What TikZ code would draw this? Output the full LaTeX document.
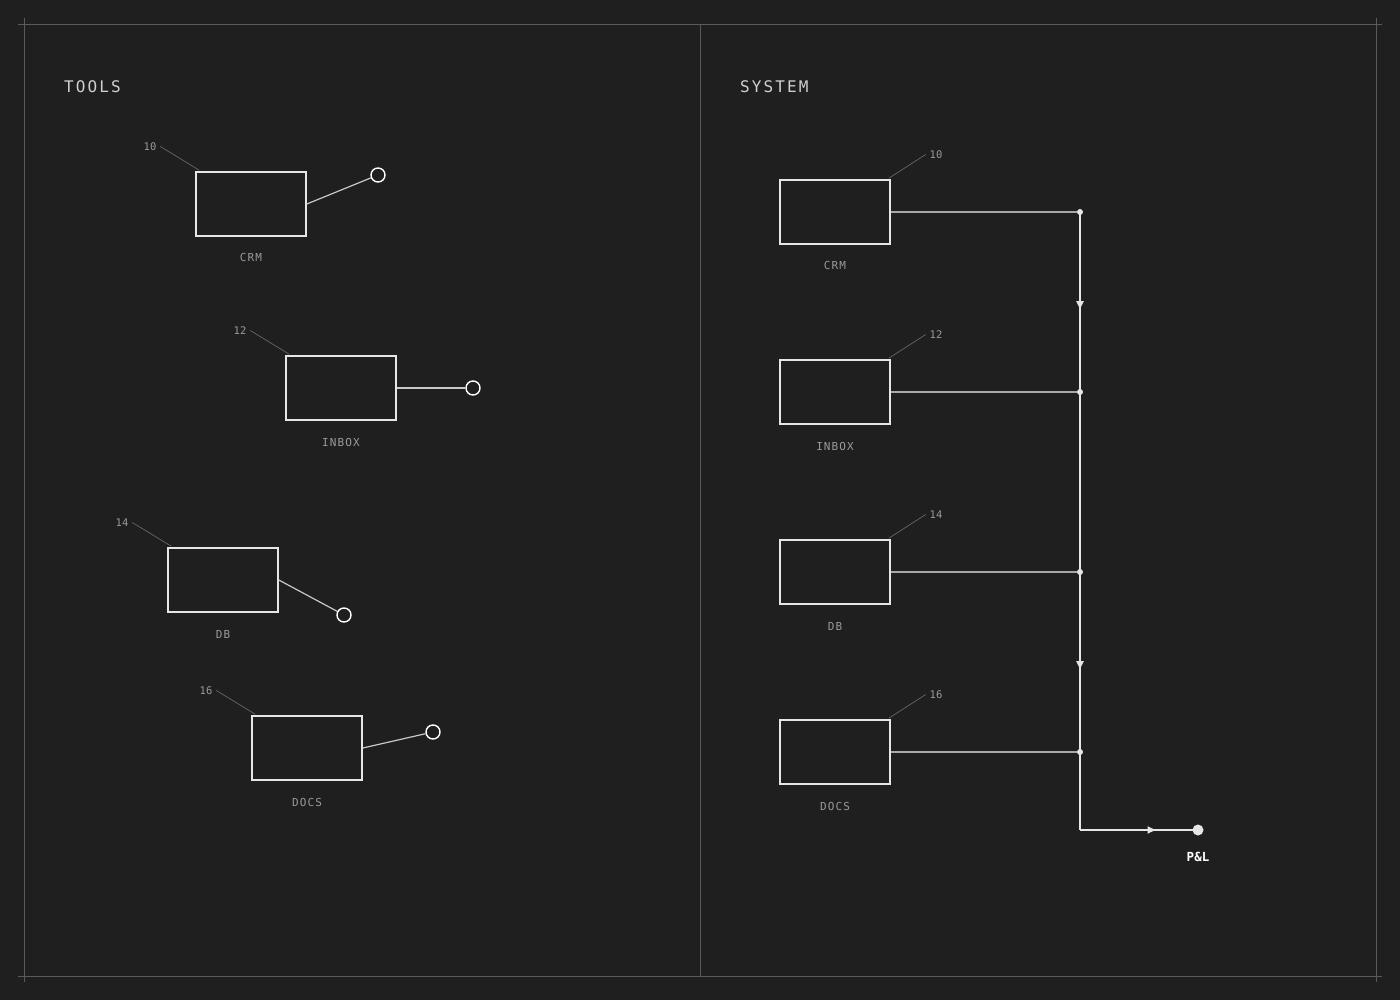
\documentclass[tikz,border=0pt]{standalone}
\usepackage{fontspec}
\setmonofont{DejaVu Sans Mono}
\newfontfamily\titlefont[LetterSpace=13]{DejaVu Sans Mono}
\newfontfamily\tagfont[LetterSpace=10]{DejaVu Sans Mono}
\usetikzlibrary{positioning,arrows.meta,decorations.markings}

\definecolor{bgc}{HTML}{1F1F1F}
\definecolor{framec}{HTML}{5A5A5A}
\definecolor{boxc}{HTML}{E6E6E6}
\definecolor{wirec}{HTML}{C8C8C8}
\definecolor{feedc}{HTML}{A8A8A8}
\definecolor{labelc}{HTML}{9A9A9A}
\definecolor{leadc}{HTML}{666666}
\definecolor{titlec}{HTML}{D0D0D0}

\tikzset{
  frame/.style={draw=framec, line width=0.8pt},
  block/.style={draw=boxc, line width=1.6pt, minimum width=110pt, minimum height=64pt, inner sep=0pt},
  tag/.style={text=labelc, font=\tagfont\fontsize{11}{11}\selectfont, inner sep=0pt, text height=8pt, text depth=0pt},
  num/.style={text=labelc, font=\ttfamily\fontsize{10.5}{10.5}\selectfont, inner sep=0pt, outer sep=4pt},
  leader/.style={draw=leadc, line width=0.7pt},
  port/.style={circle, draw=white, fill=bgc, line width=1.4pt, minimum size=14pt, inner sep=0pt},
  wire/.style={draw=wirec, line width=1.2pt},
  feed/.style={draw=feedc, line width=1.2pt},
  bus/.style={draw=boxc, line width=1.8pt},
  jdot/.style={circle, fill=boxc, minimum size=6pt, inner sep=0pt},
  midarrow/.style={postaction={decorate}, decoration={markings,
    mark=at position #1 with {\arrow{Triangle[length=8pt,width=7pt]}}}},
  title/.style={text=titlec, font=\titlefont\fontsize{16}{16}\selectfont, inner sep=0pt, anchor=west}
}

\begin{document}
\begin{tikzpicture}[x=1pt, y=-1pt]
    % Page and frame
    \fill[bgc] (0,0) rectangle (1400,1000);
    \useasboundingbox (0,0) rectangle (1400,1000);
    \draw[frame] (24,24) rectangle (1376,976);
    \draw[frame] (700,24) -- (700,976);
    \foreach \cx/\cy in {24/24, 1376/24, 24/976, 1376/976}
        \draw[frame] (\cx-6,\cy) -- (\cx+6,\cy) (\cx,\cy-6) -- (\cx,\cy+6);

    % Panel titles
    \node[title] (toolsT) at (64,87) {TOOLS};
    \node[title] (systemT) at (740,87) {SYSTEM};

    % Left panel: tools, each on its own loose port
    \node[block] (crmL) at (251,204) {};
    \node[block] (inboxL) at (341,388) {};
    \node[block] (dbL) at (223,580) {};
    \node[block] (docsL) at (307,748) {};
    \node[tag, below=17pt of crmL] (crmLt) {CRM};
    \node[tag, below=17pt of inboxL] (inboxLt) {INBOX};
    \node[tag, below=17pt of dbL] (dbLt) {DB};
    \node[tag, below=17pt of docsL] (docsLt) {DOCS};
    \node[num] (crmLn) at (150,146.5) {10};
    \node[num] (inboxLn) at (240,330.5) {12};
    \node[num] (dbLn) at (122,522.5) {14};
    \node[num] (docsLn) at (206,690.5) {16};
    \foreach \b in {crmL, inboxL, dbL, docsL}
        \draw[leader] (\b n.east) -- ([shift={(4,-1)}]\b.north west);
    \node[port] (crmP) at (378,175) {};
    \node[port] (inboxP) at (473,388) {};
    \node[port] (dbP) at (344,615) {};
    \node[port] (docsP) at (433,732) {};
    \foreach \b in {crm, inbox, db, docs}
        \draw[wire] (\b L.east) -- (\b P);

    % Right panel: the same tools on one bus
    \node[block] (crmR) at (835,212) {};
    \node[block] (inboxR) at (835,392) {};
    \node[block] (dbR) at (835,572) {};
    \node[block] (docsR) at (835,752) {};
    \node[tag, below=17pt of crmR] (crmRt) {CRM};
    \node[tag, below=17pt of inboxR] (inboxRt) {INBOX};
    \node[tag, below=17pt of dbR] (dbRt) {DB};
    \node[tag, below=17pt of docsR] (docsRt) {DOCS};
    \node[num] (crmRn) at (936,154.5) {10};
    \node[num] (inboxRn) at (936,334.5) {12};
    \node[num] (dbRn) at (936,514.5) {14};
    \node[num] (docsRn) at (936,694.5) {16};
    \foreach \b in {crmR, inboxR, dbR, docsR}
        \draw[leader] ([shift={(-2,-1)}]\b.north east) -- (\b n.west);

    % Bus
    \coordinate (turn) at (1080,830);
    \node[circle, fill=boxc, minimum size=11pt, inner sep=0pt] (pl) at (1198,830) {};
    \node[text=white, font=\ttfamily\bfseries\fontsize{12.5}{12.5}\selectfont, inner sep=0pt,
          text height=9pt, text depth=0pt, below=17pt of pl] (plt) {P\&L};
    \draw[bus, midarrow=0.54] (1080,212) -- (1080,392);
    \draw[bus] (1080,392) -- (1080,572);
    \draw[bus, midarrow=0.54] (1080,572) -- (1080,752);
    \draw[bus] (1080,752) -- (turn);
    \draw[bus, midarrow=0.64] (turn) -- (pl.center);
    \foreach \b/\y [count=\i] in {crmR/212, inboxR/392, dbR/572, docsR/752} {
        \node[jdot] (j\i) at (1080,\y) {};
        \draw[feed] (\b.east) -- (j\i);
    }
\end{tikzpicture}
\end{document}
